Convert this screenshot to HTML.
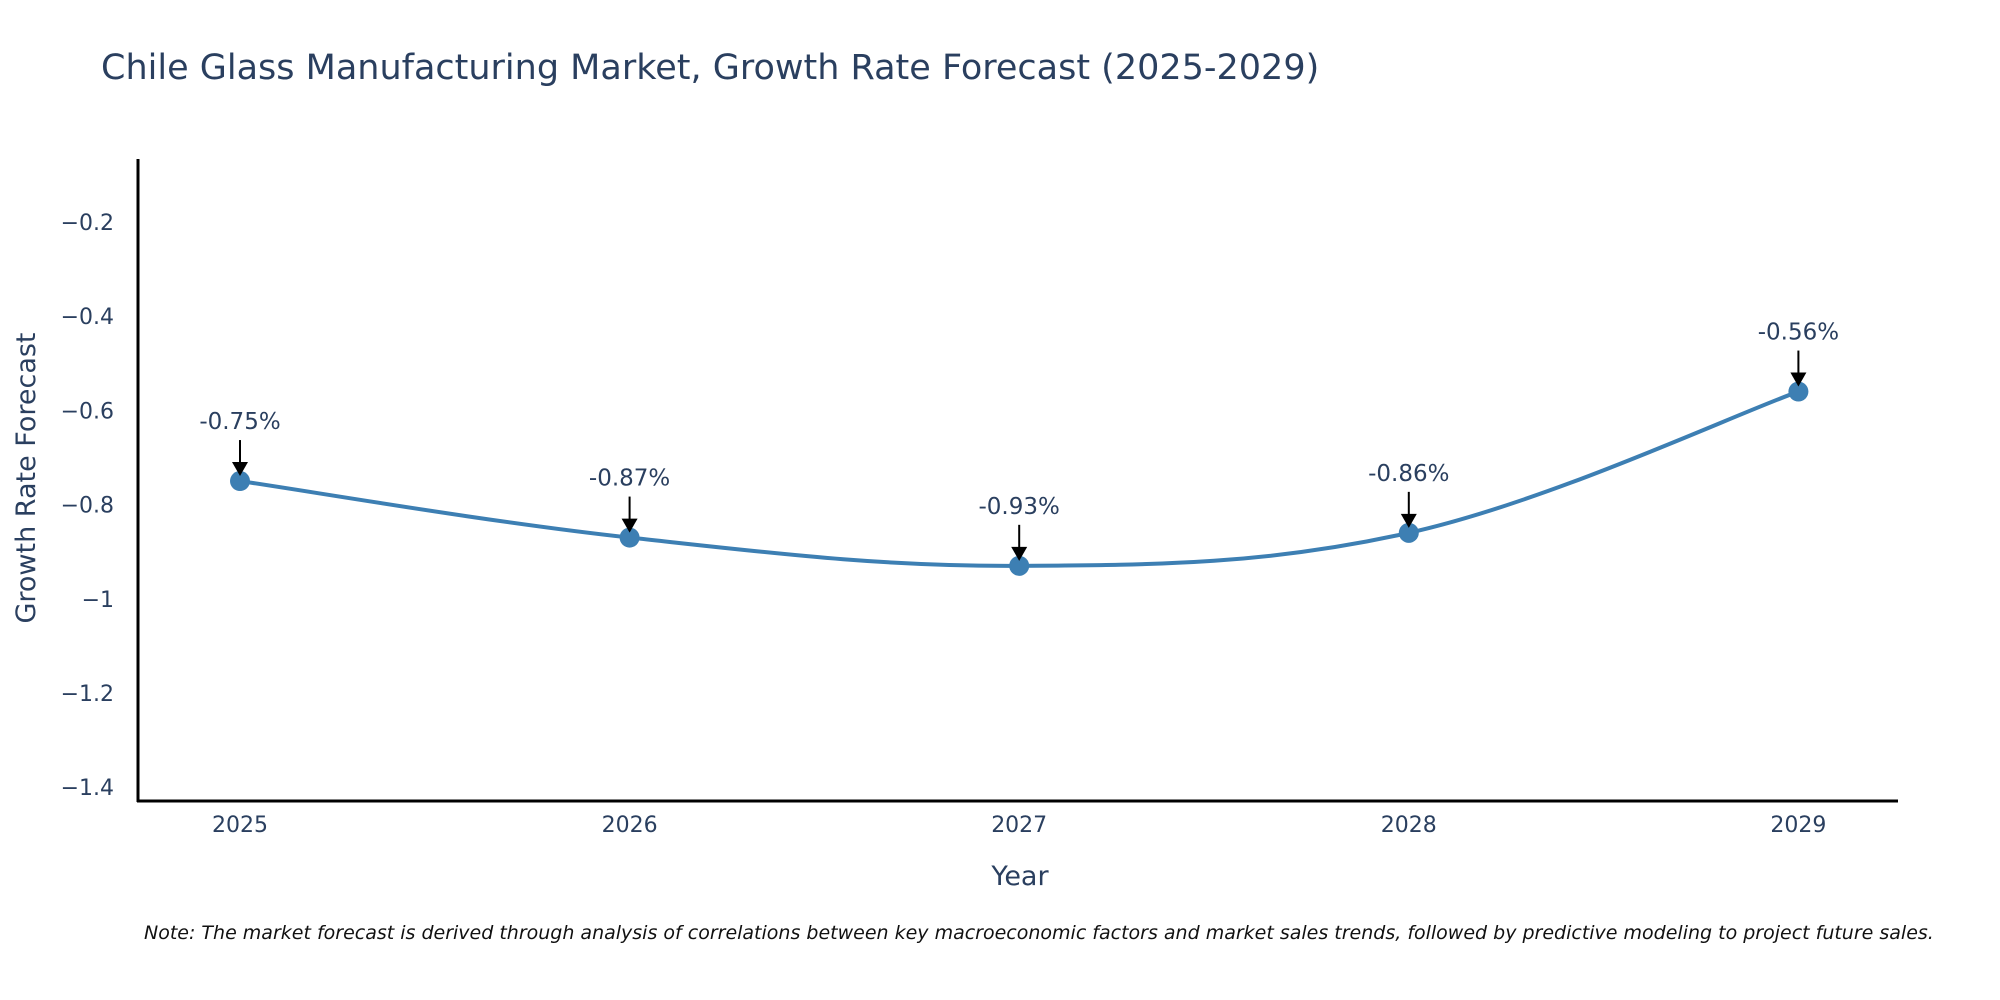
<!DOCTYPE html>
<html><head><meta charset="utf-8"><style>
html,body{margin:0;padding:0;background:#fff;}
svg{display:block;font-family:"DejaVu Sans","Liberation Sans",sans-serif;}
</style></head><body>
<svg id="chart" width="2000" height="1000" viewBox="0 0 2000 1000">
<text x="101" y="79" font-size="35" fill="#2a3f5f">Chile Glass Manufacturing Market, Growth Rate Forecast (2025-2029)</text>
<g id="yticks"></g>
<g id="xticks"></g>
<line x1="138" y1="159" x2="138" y2="802" stroke="#000" stroke-width="3"/>
<line x1="137" y1="801" x2="1898" y2="801" stroke="#000" stroke-width="3"/>
<path id="series" fill="none" stroke="#3d7fb3" stroke-width="4"/>
<g id="points"></g>
<g id="annots"></g>
<text x="1020" y="885" font-size="27" fill="#2a3f5f" text-anchor="middle">Year</text>
<text transform="translate(35,478) rotate(-90)" font-size="27" fill="#2a3f5f" text-anchor="middle">Growth Rate Forecast</text>
<text x="144" y="939" font-size="19" font-style="italic" fill="#111">Note: The market forecast is derived through analysis of correlations between key macroeconomic factors and market sales trends, followed by predictive modeling to project future sales.</text>
</svg>
<script>
const years = [2025, 2026, 2027, 2028, 2029];
const values = [-0.75, -0.87, -0.93, -0.86, -0.56];
const labels = ["-0.75%", "-0.87%", "-0.93%", "-0.86%", "-0.56%"];
const yTicks = [-0.2, -0.4, -0.6, -0.8, -1, -1.2, -1.4];
const yTickLabels = ["\u22120.2", "\u22120.4", "\u22120.6", "\u22120.8", "\u22121", "\u22121.2", "\u22121.4"];

const NS = "http://www.w3.org/2000/svg";
function xs(yr){ return 240 + (yr - 2025) * 389.6; }
function ys(v){ return 222 + (-0.2 - v) / 0.2 * 94.2; }
function mk(tag, attrs, parent){ const e = document.createElementNS(NS, tag); for (const k in attrs) e.setAttribute(k, attrs[k]); parent.appendChild(e); return e; }

const yg = document.getElementById("yticks");
yTicks.forEach((v, i) => {
  const t = mk("text", {x: 114, y: ys(v) + 8, "font-size": 22, fill: "#2a3f5f", "text-anchor": "end"}, yg);
  
  
  t.textContent = yTickLabels[i];
});
const xg = document.getElementById("xticks");
years.forEach(yr => {
  const t = mk("text", {x: xs(yr), y: 832, "font-size": 22, fill: "#2a3f5f", "text-anchor": "middle"}, xg);
  
  
  t.textContent = String(yr);
});

const P = years.map((yr, i) => [xs(yr), ys(values[i])]);
let d = "M" + P[0][0] + "," + P[0][1];
const s = 0.18;
for (let i = 0; i < P.length - 1; i++) {
  const p0 = P[Math.max(0, i - 1)], p1 = P[i], p2 = P[i + 1], p3 = P[Math.min(P.length - 1, i + 2)];
  const c1 = [p1[0] + (p2[0] - p0[0]) * s, p1[1] + (p2[1] - p0[1]) * s];
  const c2 = [p2[0] - (p3[0] - p1[0]) * s, p2[1] - (p3[1] - p1[1]) * s];
  d += " C" + c1.join(",") + " " + c2.join(",") + " " + p2.join(",");
}
document.getElementById("series").setAttribute("d", d);

const pg = document.getElementById("points");
const ag = document.getElementById("annots");
P.forEach((p, i) => {
  const c = mk("circle", {cx: p[0], cy: p[1], r: 10, fill: "#3d7fb3"}, pg);
  
  
  const l = mk("line", {x1: p[0], y1: p[1] - 41, x2: p[0], y2: p[1] - 16, stroke: "#000", "stroke-width": 2}, ag);
  
  
  const h = mk("path", {d: `M${p[0]-8},${p[1]-19} L${p[0]+8},${p[1]-19} L${p[0]},${p[1]-5} Z`, fill: "#000"}, ag);
  
  
  const t = mk("text", {x: p[0], y: p[1] - 52, "font-size": 23, fill: "#2a3f5f", "text-anchor": "middle"}, ag);
  
  
  t.textContent = labels[i];
});
</script>
</body></html>
